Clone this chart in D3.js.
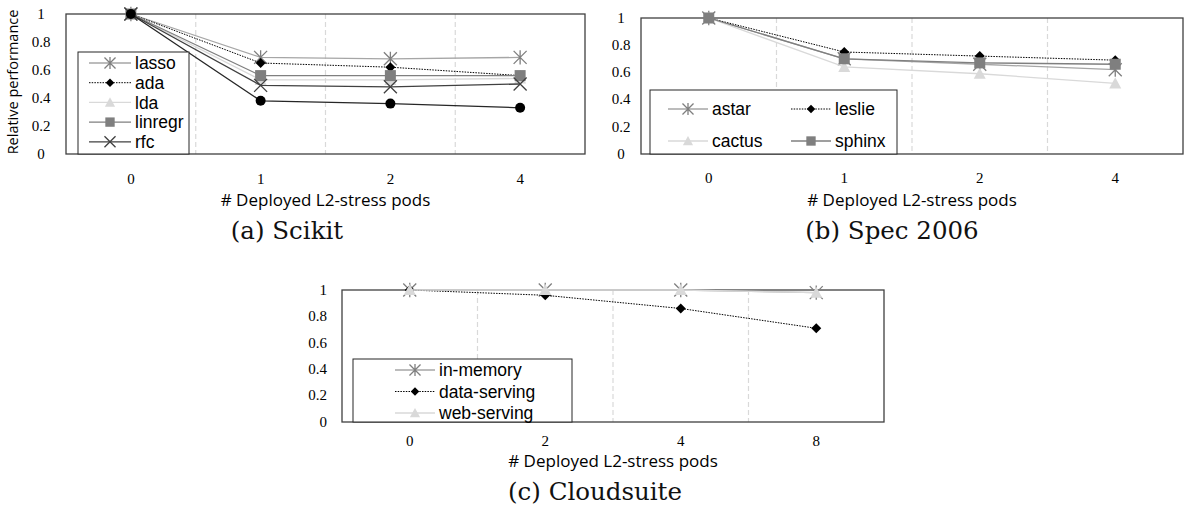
<!DOCTYPE html>
<html>
<head>
<meta charset="utf-8">
<script src="https://cdn.jsdelivr.net/npm/d3@7"></script>
<style>
  body { margin: 0; background: #fff; }
  svg { display: block; }
</style>
</head>
<body>
<svg id="chart" width="1184" height="518"></svg>
<script>
// ---- data ----
const yTicks = [0, 0.2, 0.4, 0.6, 0.8, 1];

// (a) Scikit
const scikitCats = ['0', '1', '2', '4'];
const lassoVals = [1, 0.69, 0.68, 0.69];
const adaVals = [1, 0.65, 0.62, 0.56];
const ldaVals = [1, 0.53, 0.53, 0.54];
const linregrVals = [1, 0.56, 0.56, 0.56];
const rfcVals = [1, 0.49, 0.48, 0.50];
const scikitHiddenVals = [1, 0.38, 0.36, 0.33]; // 6th series, legend entry cut off

// (b) Spec 2006
const specCats = ['0', '1', '2', '4'];
const astarVals = [1, 0.70, 0.66, 0.62];
const leslieVals = [1, 0.75, 0.72, 0.69];
const cactusVals = [1, 0.64, 0.59, 0.52];
const sphinxVals = [1, 0.70, 0.67, 0.66];

// (c) Cloudsuite
const cloudCats = ['0', '2', '4', '8'];
const inMemoryVals = [1, 1, 1, 0.98];
const dataServingVals = [1, 0.96, 0.86, 0.71];
const webServingVals = [1, 1, 1, 0.98];

// ---- styles ----
const LIGHT = '#d9d9d9', MID = '#a6a6a6', GREY = '#7f7f7f', DARK = '#404040', BLACK = '#000';
const styles = {
  asterisk: { line: MID, mark: 'asterisk', fill: GREY },
  diamond: { line: BLACK, mark: 'diamond', fill: BLACK, dash: '1.5 1.2', width: 1 },
  triangle: { line: LIGHT, mark: 'triangle', fill: LIGHT },
  square: { line: GREY, mark: 'square', fill: GREY },
  cross: { line: DARK, mark: 'cross', fill: DARK },
  circle: { line: '#262626', mark: 'circle', fill: BLACK }
};

const svg = d3.select('#chart');
const tickFont = '"Liberation Serif", serif';
const labelFont = '"Open Sans", sans-serif';
const legendFont = '"Liberation Sans", Arial, sans-serif';

// draws one marker shape centred at 0,0 (k scales it down for the legend)
function drawMarker(g, kind, color, k = 1) {
  if (kind === 'asterisk') {
    const r = 6.5 * k;
    g.append('path')
      .attr('d', `M${-r},${-r}L${r},${r}M${-r},${r}L${r},${-r}M0,${-r * 1.1}L0,${r * 1.1}`)
      .attr('stroke', color).attr('stroke-width', 1.3).attr('fill', 'none');
  } else if (kind === 'cross') {
    const r = 6.5 * k;
    g.append('path')
      .attr('d', `M${-r},${-r}L${r},${r}M${-r},${r}L${r},${-r}`)
      .attr('stroke', color).attr('stroke-width', 1.3).attr('fill', 'none');
  } else if (kind === 'diamond') {
    const r = 5 * k;
    g.append('path').attr('d', `M0,${-r}L${r},0L0,${r}L${-r},0Z`).attr('fill', color);
  } else if (kind === 'square') {
    const r = 5.5 * k;
    g.append('rect').attr('x', -r).attr('y', -r).attr('width', 2 * r).attr('height', 2 * r).attr('fill', color);
  } else if (kind === 'triangle') {
    const r = 6 * k;
    g.append('path').attr('d', `M0,${-r}L${r},${r * 0.85}L${-r},${r * 0.85}Z`).attr('fill', color);
  } else if (kind === 'circle') {
    g.append('circle').attr('r', 5 * k).attr('fill', color);
  }
}

function drawPanel(p) {
  const x = d3.scaleBand().domain(p.cats).range([p.left, p.right]);
  const y = d3.scaleLinear().domain([0, 1]).range([p.bottom, p.top]);
  const g = svg.append('g');

  // dashed separators between categories
  g.selectAll('line.grid')
    .data(p.cats.slice(1))
    .join('line')
    .attr('x1', d => x(d)).attr('x2', d => x(d))
    .attr('y1', p.top).attr('y2', p.bottom)
    .attr('stroke', '#d9d9d9').attr('stroke-width', 1.2)
    .attr('stroke-dasharray', '5 3');

  // plot frame
  g.append('rect')
    .attr('x', p.left).attr('y', p.top)
    .attr('width', p.right - p.left).attr('height', p.bottom - p.top)
    .attr('fill', 'none').attr('stroke', '#404040').attr('stroke-width', 1.3);

  // y tick labels
  g.selectAll('text.ytick')
    .data(yTicks)
    .join('text')
    .attr('x', p.left + p.yLabelDx)
    .attr('y', d => y(d))
    .attr('dy', '0.32em')
    .attr('text-anchor', p.yAnchor)
    .style('font-family', tickFont).style('font-size', '15px')
    .text(d => d3.format('~g')(d));

  // x tick labels
  g.selectAll('text.xtick')
    .data(p.cats)
    .join('text')
    .attr('x', d => x(d) + x.bandwidth() / 2)
    .attr('y', p.bottom + p.xLabelDy)
    .attr('text-anchor', 'middle')
    .style('font-family', tickFont).style('font-size', '15px')
    .text(d => d);

  // x axis title
  g.append('text')
    .attr('x', (x(p.cats[0]) + x(p.cats[p.cats.length - 1])) / 2 + x.bandwidth() / 2)
    .attr('y', p.bottom + p.titleDy)
    .attr('text-anchor', 'middle')
    .style('font-family', labelFont).style('font-size', '17px')
    .text('# Deployed L2-stress pods');

  // caption
  g.append('text')
    .attr('x', p.captionX)
    .attr('y', p.bottom + p.captionDy)
    .attr('text-anchor', 'middle')
    .style('font-family', '"DejaVu Serif", serif').style('font-size', '24.5px')
    .style('fill', '#111')
    .text(p.caption);

  // series
  const line = d3.line()
    .x((d, i) => x(p.cats[i]) + x.bandwidth() / 2)
    .y(d => y(d));
  p.series.forEach(s => {
    const st = styles[s.style];
    g.append('path')
      .attr('d', line(s.values))
      .attr('fill', 'none')
      .attr('stroke', st.line)
      .attr('stroke-width', st.width || 1.3)
      .attr('stroke-dasharray', st.dash || null);
    s.values.forEach((v, i) => {
      const m = g.append('g')
        .attr('transform', `translate(${x(p.cats[i]) + x.bandwidth() / 2},${y(v)})`);
      drawMarker(m, st.mark, st.fill);
    });
  });

  // legend (white box drawn over the plot, clipped at the plot bottom)
  const L = p.legend;
  const lg = g.append('g');
  lg.append('rect')
    .attr('x', L.x).attr('y', L.y)
    .attr('width', L.w).attr('height', p.bottom - L.y)
    .attr('fill', '#fff').attr('stroke', '#262626').attr('stroke-width', 1);
  p.series.filter(s => s.name).forEach((s, i) => {
    const st = styles[s.style];
    const col = i % L.cols, row = Math.floor(i / L.cols);
    const ex = L.x + L.padX + col * L.colW;
    const ey = L.y + L.padY + row * L.rowH;
    lg.append('line')
      .attr('x1', ex).attr('x2', ex + L.lineW)
      .attr('y1', ey).attr('y2', ey)
      .attr('stroke', st.line).attr('stroke-width', st.width || 1.3)
      .attr('stroke-dasharray', st.dash || null);
    drawMarker(lg.append('g').attr('transform', `translate(${ex + L.lineW / 2},${ey})`), st.mark, st.fill, 0.85);
    lg.append('text')
      .attr('x', ex + L.lineW + 4).attr('y', ey)
      .attr('dy', '0.35em')
      .style('font-family', legendFont).style('font-size', '17.5px')
      .text(s.name);
  });
}

drawPanel({
  cats: scikitCats, left: 66, right: 585, top: 14, bottom: 154,
  yLabelDx: -25, yAnchor: 'middle', xLabelDy: 30, titleDy: 52, captionDy: 85,
  captionX: 287, caption: '(a) Scikit',
  series: [
    { name: 'lasso', values: lassoVals, style: 'asterisk' },
    { name: 'ada', values: adaVals, style: 'diamond' },
    { name: 'lda', values: ldaVals, style: 'triangle' },
    { name: 'linregr', values: linregrVals, style: 'square' },
    { name: 'rfc', values: rfcVals, style: 'cross' },
    { name: null, values: scikitHiddenVals, style: 'circle' }
  ],
  legend: { x: 78, y: 52, w: 111, cols: 1, padX: 11, padY: 11, rowH: 19.7, colW: 0, lineW: 42 }
});

drawPanel({
  cats: specCats, left: 641, right: 1183, top: 18, bottom: 154,
  yLabelDx: -20, yAnchor: 'middle', xLabelDy: 29, titleDy: 52, captionDy: 85,
  captionX: 892, caption: '(b) Spec 2006',
  series: [
    { name: 'astar', values: astarVals, style: 'asterisk' },
    { name: 'leslie', values: leslieVals, style: 'diamond' },
    { name: 'cactus', values: cactusVals, style: 'triangle' },
    { name: 'sphinx', values: sphinxVals, style: 'square' }
  ],
  legend: { x: 650, y: 90, w: 247, cols: 2, padX: 18, padY: 19, rowH: 32, colW: 123, lineW: 40 }
});

drawPanel({
  cats: cloudCats, left: 342, right: 884, top: 290, bottom: 422,
  yLabelDx: -15, yAnchor: 'end', xLabelDy: 24, titleDy: 45, captionDy: 78,
  captionX: 595, caption: '(c) Cloudsuite',
  series: [
    { name: 'in-memory', values: inMemoryVals, style: 'asterisk' },
    { name: 'data-serving', values: dataServingVals, style: 'diamond' },
    { name: 'web-serving', values: webServingVals, style: 'triangle' }
  ],
  legend: { x: 353, y: 359, w: 219, cols: 1, padX: 42, padY: 11, rowH: 21.5, colW: 0, lineW: 40 }
});

// shared y axis title on the left
svg.append('text')
  .attr('transform', 'translate(18,82) rotate(-90)')
  .attr('text-anchor', 'middle')
  .style('font-family', labelFont).style('font-size', '14.5px')
  .text('Relative performance');
</script>
</body>
</html>
